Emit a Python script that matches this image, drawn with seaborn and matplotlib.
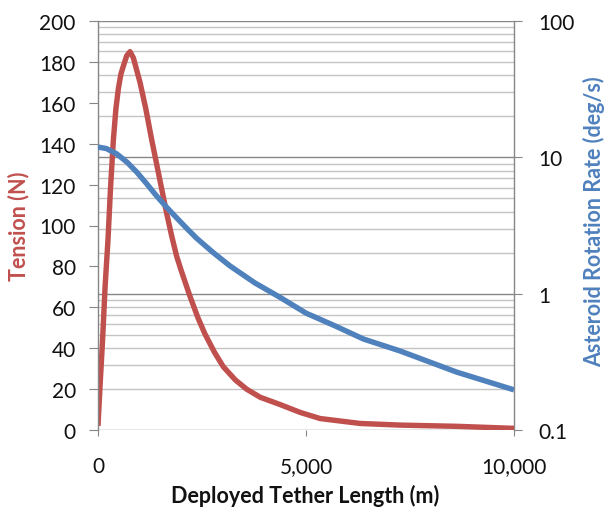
import matplotlib
matplotlib.use("Agg")
import matplotlib.pyplot as plt
import matplotlib.ticker as mticker
import seaborn as sns
import numpy as np

# ---- data ----
tether_red = [0, 50, 110, 170, 240, 300, 370, 430, 490, 550, 610, 690, 770, 850, 930,
              1010, 1150, 1290, 1410, 1530, 1650, 1770, 1890, 2000, 2200, 2400, 2570, 2800,
              3010, 3300, 3570, 3900, 4370, 4860, 5340, 6300, 7260, 8620, 10000]
tension = [2, 22, 44, 70, 93, 118, 142, 157, 167, 174, 178, 183, 185, 182, 176,
           170, 157, 142, 130, 118, 106, 95, 85, 78, 66, 55, 47, 38,
           31, 24.5, 20, 16, 12.5, 8.6, 5.6, 3.2, 2.4, 1.8, 0.8]

tether_blue = [0, 200, 450, 700, 930, 1170, 1410, 1650, 1890, 2130, 2370, 2770, 3170,
               3770, 4375, 5000, 5700, 6380, 7260, 8620, 10000]
rotation_rate = [11.9, 11.6, 10.6, 9.2, 7.8, 6.4, 5.2, 4.3, 3.6, 3.02, 2.55, 2.0, 1.6,
                 1.2, 0.94, 0.72, 0.58, 0.465, 0.38, 0.266, 0.197]

x_ticks = [0, 5000, 10000]
x_tick_labels = ["0", "5,000", "10,000"]
tension_ticks = [0, 20, 40, 60, 80, 100, 120, 140, 160, 180, 200]
rate_ticks = [0.1, 1, 10, 100]
rate_tick_labels = ["0.1", "1", "10", "100"]

RED = "#C0504D"
BLUE = "#4F81BD"
GRID_MAJOR = "#868686"
GRID_MINOR = "#C4C4C4"
TICK_FS = 15
LABEL_FS = 15.5

sns.set_style("white")
plt.rcParams["font.family"] = ["Lato", "DejaVu Sans"]

W, H = 609, 510
fig = plt.figure(figsize=(W / 100, H / 100), dpi=100)
L, R, T, B = 98, 514, 22, 431
rect = [L / W, 1 - B / H, (R - L) / W, (B - T) / H]

# bottom layer: log axis with grid + right ticks
axg = fig.add_axes(rect)
axg.set_yscale("log")
axg.set_ylim(0.1, 100)
axg.set_xlim(0, 10000)

# middle layer: tension (left axis)
axt = axg.twinx()
# top layer: rotation rate (log)
axb = axg.twinx()

# ---- grid / right axis ----
axg.yaxis.tick_right()
axg.yaxis.set_label_position("right")
axg.yaxis.set_major_locator(mticker.FixedLocator(rate_ticks))
axg.yaxis.set_major_formatter(mticker.FixedFormatter(rate_tick_labels))
axg.yaxis.set_minor_locator(mticker.LogLocator(base=10, subs=np.arange(2, 10)))
axg.yaxis.set_minor_formatter(mticker.NullFormatter())
axg.grid(True, which="major", axis="y", color=GRID_MAJOR, linewidth=1.0)
axg.grid(True, which="minor", axis="y", color=GRID_MINOR, linewidth=1.0)
axg.grid(False, axis="x")
axg.tick_params(axis="y", which="major", direction="out", length=6, width=0.8,
                color=GRID_MAJOR, pad=11.5, labelsize=TICK_FS, labelcolor="#111111",
                right=True, left=False, labelright=True, labelleft=False)
axg.tick_params(axis="y", which="minor", length=0, right=False, left=False)
axg.set_xticks(x_ticks)
axg.set_xticklabels(x_tick_labels)
axg.tick_params(axis="x", direction="out", length=4, width=0.8, color=GRID_MAJOR,
                pad=15, labelsize=TICK_FS, labelcolor="#111111", bottom=True)
for s in ["top", "bottom", "left"]:
    axg.spines[s].set_visible(False)
axg.spines["right"].set_color(GRID_MAJOR)
axg.spines["right"].set_linewidth(1.0)
axg.set_ylabel("Asteroid Rotation Rate (deg/s)", color=BLUE, fontsize=LABEL_FS,
               fontweight="bold", rotation=90, va="center", ha="center")
axg.yaxis.set_label_coords(1.193, 0.511)
axg.set_xlabel("Deployed Tether Length (m)", fontsize=LABEL_FS, fontweight="bold",
               color="#111111", va="center", ha="center")
axg.xaxis.set_label_coords(0.4976, -0.158)

# ---- tension ----
sns.lineplot(x=tether_red, y=tension, ax=axt, color=RED, linewidth=3.9,
             solid_capstyle="butt", sort=False)
axt.set_ylim(0, 200)
axt.set_xlim(0, 10000)
axt.set_yticks(tension_ticks)
axt.yaxis.tick_left()
axt.yaxis.set_label_position("left")
axt.tick_params(axis="y", direction="out", length=6.5, width=0.8, color=GRID_MAJOR,
                pad=9.5, labelsize=TICK_FS, labelcolor="#111111", left=True,
                right=False, labelleft=True, labelright=False)
for s in ["top", "bottom", "right"]:
    axt.spines[s].set_visible(False)
axt.spines["left"].set_color(GRID_MAJOR)
axt.spines["left"].set_linewidth(1.0)
axt.set_ylabel("Tension (N)", color=RED, fontsize=LABEL_FS, fontweight="bold",
               va="center", ha="center")
axt.yaxis.set_label_coords(-0.19, 0.5)

# ---- rotation rate ----
axb.set_yscale("log")
sns.lineplot(x=tether_blue, y=rotation_rate, ax=axb, color=BLUE, linewidth=3.9,
             solid_capstyle="butt", sort=False)
axb.set_ylim(0.1, 100)
axb.set_xlim(0, 10000)
axb.set_ylabel("")
axb.tick_params(axis="y", which="both", left=False, right=False,
                labelleft=False, labelright=False)
for s in axb.spines.values():
    s.set_visible(False)

fig.savefig("out.png", dpi=100)
